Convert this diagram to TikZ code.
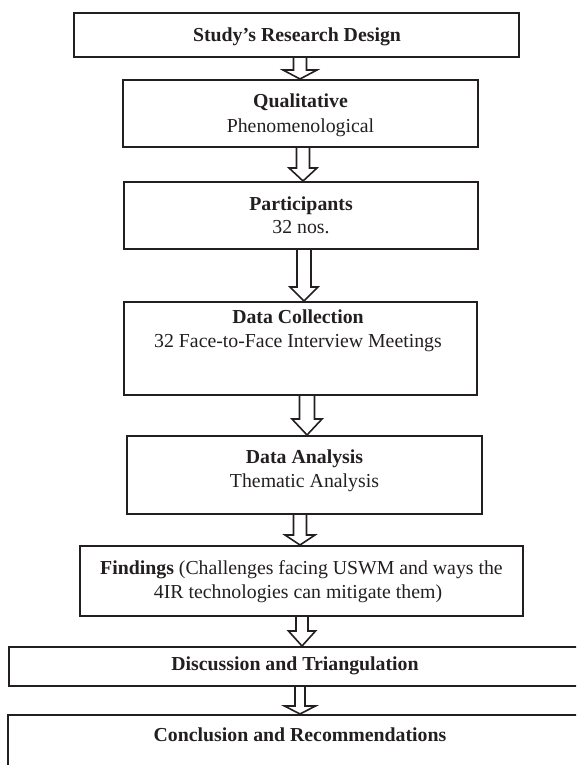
\documentclass[tikz,border=0pt]{standalone}
\usepackage{fontspec}
\setmainfont{Liberation Serif}
\usetikzlibrary{calc}
\definecolor{ink}{HTML}{231F20}
\tikzset{
  boxnode/.style={draw=ink, line width=2pt, rectangle, inner sep=0pt, fill=none},
  txt/.style={inner sep=0pt, font=\fontsize{19.8pt}{23pt}\selectfont, text=ink},
  arrowline/.style={draw=ink, line width=1.6pt, line join=miter},
}
% #1 from node, #2 to node, #3 centre x, #4 shaft half width, #5 head half width, #6 head length
\newcommand\blockarrow[6]{%
  \draw[arrowline] let \p1=(#1.south), \p2=(#2.north) in
   (#3pt-#4pt,\y1) -- (#3pt-#4pt,\y2+#6pt) -- (#3pt-#5pt,\y2+#6pt) -- (#3pt,\y2)
   -- (#3pt+#5pt,\y2+#6pt) -- (#3pt+#4pt,\y2+#6pt) -- (#3pt+#4pt,\y1);}
\newcommand\boxat[5]{% name, x1, y1, x2, y2
  \node[boxnode, minimum width={(#4-#2)*1pt}, minimum height={(#5-#3)*1pt}] (#1) at ({(#2+#4)/2},{(#3+#5)/2}) {};}
\begin{document}
\begin{tikzpicture}[x=1pt,y=-1pt]
\useasboundingbox (0,0) rectangle (576,765);
\clip (0,0) rectangle (576,765);
\boxat{design}{74}{13}{519}{57}
\boxat{qual}{123}{80}{478}{147}
\boxat{part}{124}{182}{478}{249}
\boxat{coll}{124}{302}{477}{395}
\boxat{anal}{127}{436}{482}{514}
\boxat{find}{80}{546}{523}{616}
\boxat{disc}{9}{647}{581}{686}
\boxat{concl}{8}{715}{592}{800}

\node[txt, anchor=base] (t1) at (297,42) {\textbf{Study’s Research Design}};
\node[txt, anchor=base] (t2a) at (300.5,108) {\textbf{Qualitative}};
\node[txt, anchor=base] (t2b) at (300.5,132) {Phenomenological};
\node[txt, anchor=base] (t3a) at (301,210) {\textbf{Participants}};
\node[txt, anchor=base] (t3b) at (301,233) {32 nos.};
\node[txt, anchor=base] (t4a) at (298,323) {\textbf{Data Collection}};
\node[txt, anchor=base] (t4b) at (298,347) {32 Face-to-Face Interview Meetings};
\node[txt, anchor=base] (t5a) at (304.5,463) {\textbf{Data Analysis}};
\node[txt, anchor=base] (t5b) at (304.5,487) {Thematic Analysis};
\node[txt, anchor=base] (t6a) at (301.5,574) {\textbf{Findings} (Challenges facing USWM and ways the};
\node[txt, anchor=base] (t6b) at (298,598) {4IR technologies can mitigate them)};
\node[txt, anchor=base] (t7) at (295,670) {\textbf{Discussion and Triangulation}};
\node[txt, anchor=base] (t8) at (300,741) {\textbf{Conclusion and Recommendations}};

\blockarrow{design}{qual}{300}{6.5}{17}{9}
\blockarrow{qual}{part}{303}{6.5}{14}{13}
\blockarrow{part}{coll}{304}{7}{14}{14}
\blockarrow{coll}{anal}{307}{7.5}{15}{16}
\blockarrow{anal}{find}{300}{6.5}{15}{10}
\blockarrow{find}{disc}{302}{6}{13.5}{15}
\blockarrow{disc}{concl}{300}{5}{15.5}{8}
\end{tikzpicture}
\end{document}
